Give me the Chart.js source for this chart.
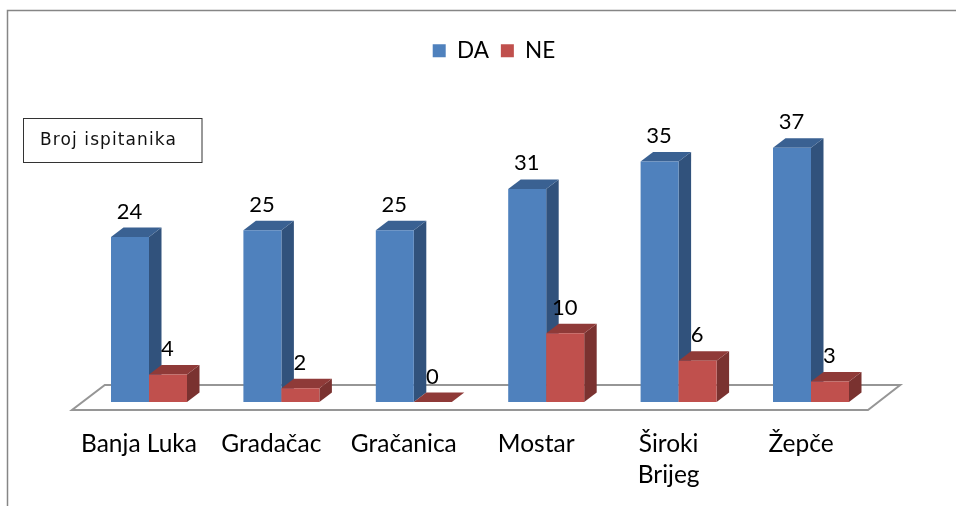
<!DOCTYPE html>
<html><head><meta charset="utf-8">
<style>html,body{margin:0;padding:0;background:#fff}canvas{display:block}</style>
<script src="https://cdn.jsdelivr.net/npm/chart.js@4"></script>
</head><body><canvas id="c" width="956" height="506"></canvas>
<script>
const categories = ["Banja Luka","Gradačac","Gračanica","Mostar",["Široki","Brijeg"],"Žepče"];
const valuesDA = [24,25,25,31,35,37];
const valuesNE = [4,2,0,10,6,3];
const boxLabel = "Broj ispitanika";
const FONT = "Lato";
const DX = 12.5, DY = 9.5;
const faces = {0:{top:"#3A6192",side:"#31527C"},1:{top:"#8F3A38",side:"#7A3230"}};

function poly(ctx, pts, fill){
  ctx.beginPath();
  pts.forEach((p,i)=> i?ctx.lineTo(p[0],p[1]):ctx.moveTo(p[0],p[1]));
  ctx.closePath(); ctx.fillStyle=fill; ctx.fill();
}
function drawFaces(ctx, meta, f){
  meta.data.forEach(b=>{
    const l=b.x-b.width/2, r=b.x+b.width/2, t=b.y, base=b.base;
    poly(ctx,[[r,base],[r+DX,base-DY],[r+DX,t-DY],[r,t]],f.side);
    poly(ctx,[[l,t],[r,t],[r+DX,t-DY],[l+DX,t-DY]],f.top);
  });
}
const deco = {
  id:"deco",
  afterLayout(chart){ const l=chart.legend; l.left+=14; l.right+=14; },
  beforeDraw(chart){
    const ctx=chart.ctx; ctx.save();
    ctx.fillStyle="#fff"; ctx.fillRect(0,0,956,506);
    ctx.strokeStyle="#868686"; ctx.lineWidth=1.5;
    ctx.beginPath(); ctx.moveTo(7.5,506); ctx.lineTo(7.5,10.5); ctx.lineTo(956,10.5); ctx.stroke();
    ctx.strokeStyle="#333"; ctx.lineWidth=1;
    ctx.strokeRect(23.5,118.5,178.5,44);
    ctx.fillStyle="#111"; ctx.font='17px "DejaVu Sans"'; ctx.textBaseline="middle"; ctx.textAlign="left";
    ctx.letterSpacing="1.1px";
    ctx.fillText(boxLabel,40,141);
    ctx.letterSpacing="0px";
    ctx.restore();
  },
  beforeDatasetsDraw(chart){
    const ctx=chart.ctx, a=chart.chartArea, y0=chart.scales.y.getPixelForValue(0);
    ctx.save(); ctx.strokeStyle="#969696"; ctx.lineWidth=2; ctx.lineJoin="miter";
    ctx.beginPath();
    ctx.moveTo(a.left-10.8,y0+8); ctx.lineTo(a.right-9.2,y0+8);
    ctx.lineTo(a.right+23,y0-17); ctx.lineTo(a.left+22,y0-17); ctx.closePath();
    ctx.stroke(); ctx.restore();
  },
  beforeDatasetDraw(chart,args){
    if(args.index===1) return false;            // NE is painted after DA, it stands in front
    const ctx=chart.ctx;
    ctx.save(); drawFaces(ctx,args.meta,faces[0]); ctx.restore();
  },
  afterDatasetDraw(chart,args){
    if(args.index!==0) return;
    const ctx=chart.ctx, m=chart.getDatasetMeta(1);
    ctx.save(); drawFaces(ctx,m,faces[1]); m.data.forEach(b=>b.draw(ctx)); ctx.restore();
  },
  afterDatasetsDraw(chart){
    const ctx=chart.ctx;
    ctx.save(); ctx.fillStyle="#000"; ctx.font='22px '+FONT; ctx.textAlign="center"; ctx.textBaseline="middle";
    chart.data.datasets.forEach((ds,i)=>{
      chart.getDatasetMeta(i).data.forEach((b,j)=>{
        ctx.fillText(String(ds.data[j]),b.x-0.5,b.y-25.5);
      });
    });
    ctx.restore();
  }
};
new Chart(document.getElementById("c"),{
  type:"bar",
  data:{labels:categories,datasets:[
    {label:"DA",data:valuesDA,backgroundColor:"#4F81BD"},
    {label:"NE",data:valuesNE,backgroundColor:"#C0504D"}
  ]},
  plugins:[deco],
  options:{
    responsive:false,animation:false,
    layout:{padding:{left:82.8,right:78.8,top:27.5,bottom:0}},
    datasets:{bar:{barPercentage:1,categoryPercentage:0.574}},
    plugins:{
      tooltip:{enabled:false},
      legend:{position:"top",labels:{boxWidth:13,boxHeight:13,padding:12,color:"#000",font:{family:FONT,size:22.5}}}
    },
    scales:{
      y:{display:false,min:0,max:48},
      x:{
        afterFit(s){s.height=104;},
        grid:{display:false,drawTicks:false},border:{display:false},
        ticks:{color:"#000",font:{family:FONT,size:24.5,lineHeight:"31px"},padding:27,labelOffset:-10,maxRotation:0,autoSkip:false}
      }
    }
  }
});
</script></body></html>
